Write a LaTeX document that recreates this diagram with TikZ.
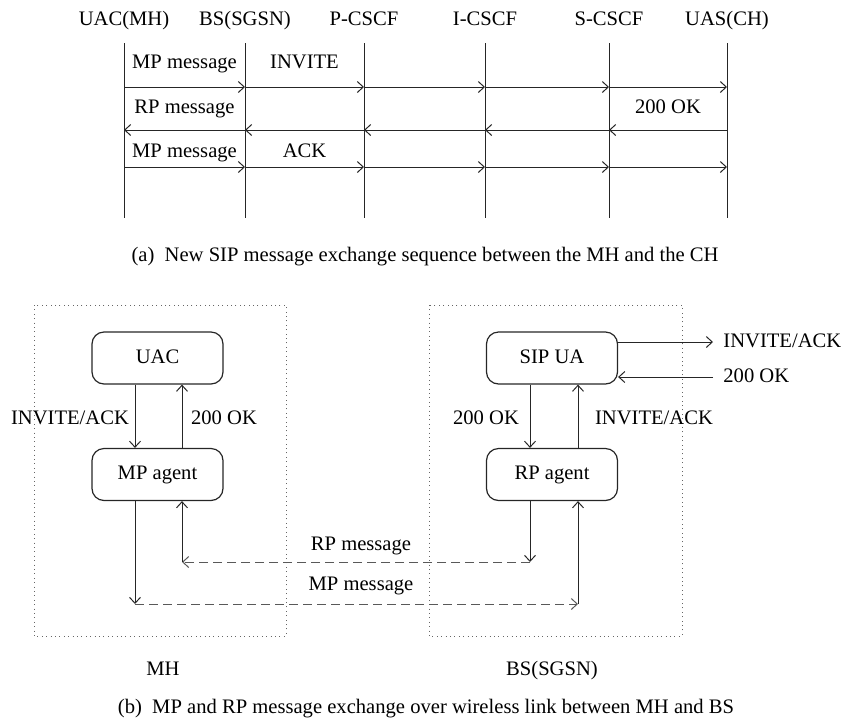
\documentclass[tikz,border=0pt]{standalone}
\usepackage{fontspec}
\setmainfont{Liberation Serif}
\usetikzlibrary{arrows.meta,positioning,calc}

\begin{document}
\begin{tikzpicture}[x=0.5pt, y=-0.5pt,
  every node/.style={font=\fontsize{10.3}{12}\selectfont, text height=7.5pt, text depth=2.3pt},
  line/.style={draw=black!85, line width=0.5pt},
  msg/.style={line, -{Straight Barb[length=3pt,width=5.5pt]}},
  wmsg/.style={msg, draw=black!65, dash pattern=on 4.5pt off 2.5pt},
  zone/.style={draw=black!60, line width=0.5pt, dash pattern=on 0.5pt off 1.7pt},
  agent/.style={rounded corners=6pt, draw=black!85, line width=0.6pt, minimum width=65.5pt, minimum height=26pt}]
\useasboundingbox (0,0) rectangle (841,719);
% Sequence chart
\foreach \n/\x/\lbl in {uac/124/UAC(MH), bs/245/BS(SGSN), pc/364/P-CSCF, ic/485/I-CSCF, sc/609/S-CSCF, uas/727/UAS(CH)} {
  \node (\n) at (\x,20) {\lbl};
  \coordinate (\n-top) at (\x,43);
  \coordinate (\n-bot) at (\x,218);
  \foreach \r/\y in {1/87, 2/130, 3/167} \coordinate (\n-\r) at (\x,\y);
  \draw[line] (\n-top) -- (\n-bot);
}
\foreach \a/\b in {uac/bs, bs/pc, pc/ic, ic/sc, sc/uas} {
  \draw[msg] (\a-1) -- (\b-1);
  \draw[msg] (\b-2) -- (\a-2);
  \draw[msg] (\a-3) -- (\b-3);
}
\node (mp1) at (184.5,63) {MP message};
\node (invite) at (304.5,63) {INVITE};
\node (rp1) at (184.5,108) {RP message};
\node (ok1) at (668,108) {200 OK};
\node (mp2) at (184.5,152) {MP message};
\node (ack) at (304.5,152) {ACK};
\node (capa) at (425,256.5) {(a)\ \ New SIP message exchange sequence between the MH and the CH};
% MH and BS
\draw[zone] (34,305) rectangle (286,636);
\draw[zone] (429,305) rectangle (682,636);
\node[agent] (uacbox) at (157.5,358) {UAC};
\node[agent] (mpagent) at (157.5,474.5) {MP agent};
\node[agent] (sipua) at (552,358) {SIP UA};
\node[agent] (rpagent) at (552,474.5) {RP agent};
\coordinate (ma) at (135,0);
\coordinate (mb) at (182,0);
\coordinate (ra) at (530,0);
\coordinate (rb) at (578,0);
\draw[msg] (uacbox.south -| ma) -- (mpagent.north -| ma);
\draw[msg] (mpagent.north -| mb) -- (uacbox.south -| mb);
\draw[msg] (sipua.south -| ra) -- (rpagent.north -| ra);
\draw[msg] (rpagent.north -| rb) -- (sipua.south -| rb);
\node (invl) at (70,419.5) {INVITE/ACK};
\node (okl) at (224,419.5) {200 OK};
\node (okr) at (486,419.5) {200 OK};
\node (invr) at (654,419.5) {INVITE/ACK};
% to the network
\node[anchor=west, inner sep=0pt] (invout) at (723,342) {INVITE/ACK};
\node[anchor=west, inner sep=0pt] (okin) at (723,377) {200 OK};
\draw[msg] (sipua.east |- invout) -- ([xshift=-5pt]invout.west);
\draw[msg] ([xshift=-5pt]okin.west) -- (sipua.east |- okin);
% Wireless link
\coordinate (rpdown) at (530,562);
\coordinate (rpleft) at (182,562);
\coordinate (mpdown) at (135,604);
\coordinate (mpright) at (578,604);
\draw[msg] (rpagent.south -| rpdown) -- (rpdown);
\draw[wmsg] (rpdown) -- (rpleft);
\draw[msg] (rpleft) -- (mpagent.south -| rpleft);
\draw[msg] (mpagent.south -| mpdown) -- (mpdown);
\draw[wmsg] (mpdown) -- (mpright);
\draw[msg] (mpright) -- (rpagent.south -| mpright);
\node (rpmsg) at (361,545) {RP message};
\node (mpmsg) at (361,585) {MP message};
\node (mh) at (163,670.5) {MH};
\node (bs2) at (552,670.5) {BS(SGSN)};
\node (capb) at (426,708.5) {(b)\ \ MP and RP message exchange over wireless link between MH and BS};
\end{tikzpicture}
\end{document}
